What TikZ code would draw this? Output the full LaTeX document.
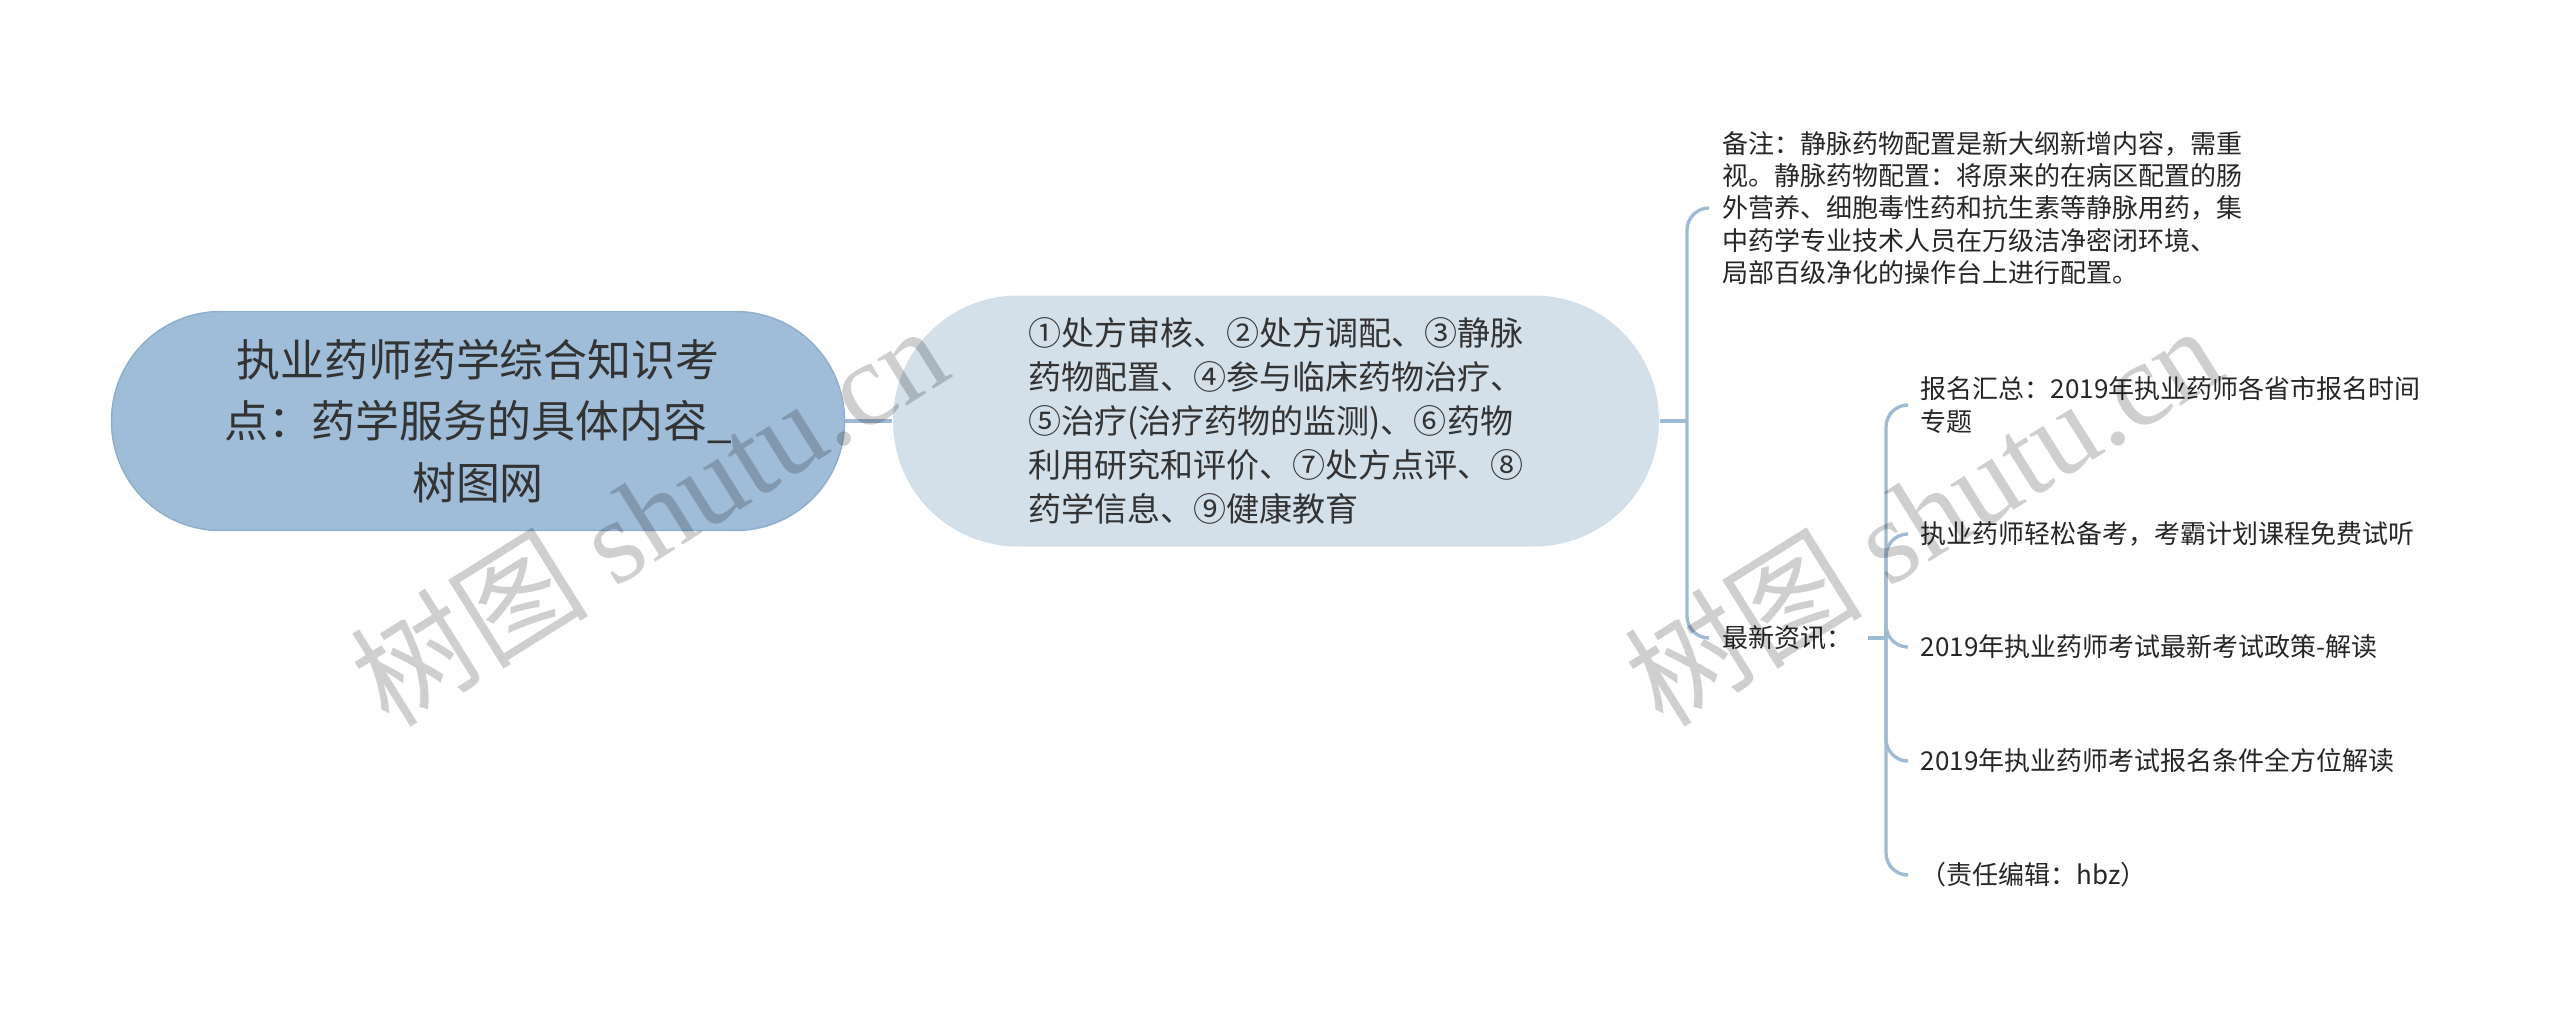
\documentclass[tikz,border=0pt]{standalone}
\usepackage{fontspec}
\setmainfont{Noto Sans CJK SC}
\newfontfamily\wmfont{Liberation Serif}
\usepackage{tikz}
\usetikzlibrary{
  positioning,
  calc
}
\definecolor{rootblue}{HTML}{9FBCD8}
\definecolor{rootedge}{HTML}{8FAECC}
\definecolor{subblue}{HTML}{D3DFE9}
\definecolor{linkblue}{HTML}{9FBAD5}
\definecolor{inkgray}{HTML}{333333}
\tikzstyle{link}=[linkblue, line width=0.95pt]
\tikzstyle{bracket}=[link, rounded corners=2.2mm]
\tikzstyle{rootbox}=[rectangle, rounded corners=10.9mm, fill=rootblue, draw=rootedge, line width=0.4pt,
  minimum width=73.3mm, minimum height=21.9mm, align=center, text=inkgray,
  font=\fontsize{12.5pt}{17.4pt}\selectfont]
\tikzstyle{subbox}=[rectangle, rounded corners=12.5mm, fill=subblue,
  minimum width=76.6mm, minimum height=25.1mm, align=left, text=inkgray,
  font=\fontsize{9.4pt}{12.5pt}\selectfont]
\tikzstyle{leaf}=[anchor=west, inner sep=1.5mm, align=left, text=black!85,
  font=\fontsize{7.4pt}{9.2pt}\selectfont]
\tikzstyle{wmark}=[text=black, opacity=0.19, rotate=32, font=\fontsize{34pt}{34pt}\selectfont]

\begin{document}
\begin{tikzpicture}[x=0.1mm, y=-0.1mm]
    \useasboundingbox (0,0) rectangle (2560,1014);

    % 中心主题
    \node[rootbox] (root) at (478,421) {执业药师药学综合知识考\\点：药学服务的具体内容\_\\树图网};

    % 一级分支
    \node[subbox] (service) at (1276,421) {①处方审核、②处方调配、③静脉\\
      药物配置、④参与临床药物治疗、\\
      ⑤治疗(治疗药物的监测)、⑥药物\\
      利用研究和评价、⑦处方点评、⑧\\
      药学信息、⑨健康教育};

    % 二级分支
    \node[leaf] (note) at (1707,208) {备注：静脉药物配置是新大纲新增内容，需重\\
      视。静脉药物配置：将原来的在病区配置的肠\\
      外营养、细胞毒性药和抗生素等静脉用药，集\\
      中药学专业技术人员在万级洁净密闭环境、\\
      局部百级净化的操作台上进行配置。};
    \node[leaf] (news) at (1707,638) {最新资讯：};

    % 最新资讯
    \node[leaf] (news1) at (1905,405) {报名汇总：2019年执业药师各省市报名时间\\专题};
    \node[leaf] (news2) at (1905,534) {执业药师轻松备考，考霸计划课程免费试听};
    \node[leaf] (news3) at (1905,647) {2019年执业药师考试最新考试政策-解读};
    \node[leaf] (news4) at (1905,761) {2019年执业药师考试报名条件全方位解读};
    \node[leaf] (news5) at (1905,875) {（责任编辑：hbz）};

    % 连线
    \coordinate (j1) at (1687,421);
    \coordinate (j2) at (1886,638);
    \draw[link] (root) -- (service);
    \draw[link] (service.east) -- (j1);
    \draw[bracket] (j1) |- (note.west);
    \draw[bracket] (j1) |- (news.west);
    \draw[link] (news.east) -- (j2);
    \foreach \i in {1,...,5}
      \draw[bracket] (j2) |- (news\i.west);

    % 水印
    \foreach \cx [count=\i] in {648,1922}
      \node[wmark] (wm\i) at (\cx,514) {树图 {\wmfont shutu.cn}};
\end{tikzpicture}
\end{document}
